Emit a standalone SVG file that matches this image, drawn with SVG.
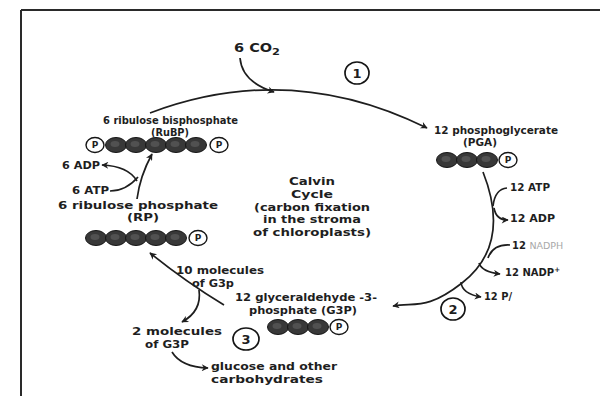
<svg xmlns="http://www.w3.org/2000/svg" width="600" height="396" viewBox="0 0 600 396">
<style>
text{font-family:"DejaVu Sans","Liberation Sans",sans-serif;font-weight:bold;fill:#1e1e1e;font-size:10px}
.c{text-anchor:middle}
.m{font-size:10.5px}
.ln{fill:none;stroke:#1e1e1e;stroke-width:1.7}
.bd{fill:#383838;stroke:#151515;stroke-width:1}
.p{fill:#fff;stroke:#151515;stroke-width:1.4}
.pt{font-size:9px;text-anchor:middle}
.num{fill:#fff;stroke:#151515;stroke-width:1.7}
.nt{font-size:13px;text-anchor:middle}
</style>
<defs>
<marker id="ah" viewBox="0 0 10 10" refX="9" refY="5" markerWidth="10" markerHeight="7" markerUnits="userSpaceOnUse" orient="auto">
<path d="M0,0 L10,5 L0,10 L3,5 Z" fill="#1e1e1e"/>
</marker>
<g id="dk"><ellipse class="bd" rx="10.5" ry="7.5"/><ellipse cx="-1" cy="-1" rx="4.5" ry="3" fill="#707070" opacity="0.45"/></g>
<g id="pp"><ellipse class="p" rx="9" ry="7.5"/><text class="pt" y="3.3">P</text></g>
</defs>
<rect width="600" height="396" fill="#fff"/>
<g id="frame">
<line x1="21" y1="10" x2="600" y2="10" stroke="#2a2a2a" stroke-width="2.2"/>
<line x1="21" y1="10" x2="21" y2="396" stroke="#2a2a2a" stroke-width="2"/>
</g>
<g id="connectors">
<path class="ln" d="M240,58 Q242,82 274,92" marker-end="url(#ah)"/>
<path class="ln" d="M150,113 Q290,60 427,128" marker-end="url(#ah)"/>
<path class="ln" d="M483,172 C500,215 498,255 462,283 S415,302 393,306" marker-end="url(#ah)"/>
<path class="ln" d="M507,188 Q495,189 493,206"/>
<path class="ln" d="M494,208 Q496,220 508,220" marker-end="url(#ah)"/>
<path class="ln" d="M510,245 Q493,244 488,258"/>
<path class="ln" d="M479,263 Q482,272 500,274" marker-end="url(#ah)"/>
<path class="ln" d="M461,282 Q462,294 481,297" marker-end="url(#ah)"/>
<path class="ln" d="M224,305 Q186,282 150,253" marker-end="url(#ah)"/>
<path class="ln" d="M199,290 Q202,311 182,322" marker-end="url(#ah)"/>
<path class="ln" d="M172,352 Q181,367 208,368" marker-end="url(#ah)"/>
<path class="ln" d="M137,199 Q140,176 152,154" marker-end="url(#ah)"/>
<path class="ln" d="M110,191 Q126,191 138,177"/>
<path class="ln" d="M137,181 Q128,166 102,165" marker-end="url(#ah)"/>
</g>
<g id="co2"><text x="234" y="52" style="font-size:11.5px" textLength="46" lengthAdjust="spacingAndGlyphs">6 CO<tspan dy="3" font-size="9">2</tspan></text></g>
<g id="step1"><ellipse class="num" cx="357" cy="73" rx="12" ry="11"/><text class="nt" x="357" y="78">1</text></g>
<g id="step2"><ellipse class="num" cx="453" cy="309" rx="12" ry="11"/><text class="nt" x="453" y="314">2</text></g>
<g id="step3"><ellipse class="num" cx="246" cy="339" rx="13" ry="11"/><text class="nt" x="246" y="344">3</text></g>
<g id="rubp">
<text x="103" y="124" textLength="135" lengthAdjust="spacingAndGlyphs">6 ribulose bisphosphate</text>
<text class="c" x="170" y="136" textLength="38" lengthAdjust="spacingAndGlyphs">(RuBP)</text>
<use href="#pp" x="95" y="145"/>
<use href="#dk" x="116" y="145"/><use href="#dk" x="136" y="145"/><use href="#dk" x="156" y="145"/><use href="#dk" x="176" y="145"/><use href="#dk" x="196" y="145"/>
<use href="#pp" x="219" y="145"/>
</g>
<g id="pga">
<text x="434" y="134" textLength="124" lengthAdjust="spacingAndGlyphs">12 phosphoglycerate</text>
<text class="c" x="480" y="146" textLength="34" lengthAdjust="spacingAndGlyphs">(PGA)</text>
<use href="#dk" x="447" y="160"/><use href="#dk" x="467" y="160"/><use href="#dk" x="487" y="160"/>
<use href="#pp" x="508" y="160"/>
</g>
<g id="calvin">
<text class="c" x="312" y="185" textLength="46" lengthAdjust="spacingAndGlyphs">Calvin</text>
<text class="c" x="312" y="198" textLength="42" lengthAdjust="spacingAndGlyphs">Cycle</text>
<text class="c" x="312" y="211" textLength="116" lengthAdjust="spacingAndGlyphs">(carbon fixation</text>
<text class="c" x="312" y="223" textLength="98" lengthAdjust="spacingAndGlyphs">in the stroma</text>
<text class="c" x="312" y="236" textLength="118" lengthAdjust="spacingAndGlyphs">of chloroplasts)</text>
</g>
<g id="adp6"><text x="62" y="169" textLength="38" lengthAdjust="spacingAndGlyphs">6 ADP</text></g>
<g id="atp6"><text x="72" y="194" textLength="37" lengthAdjust="spacingAndGlyphs">6 ATP</text></g>
<g id="rp">
<text class="m" x="58" y="209" textLength="160" lengthAdjust="spacingAndGlyphs">6 ribulose phosphate</text>
<text class="c" x="143" y="221" textLength="32" lengthAdjust="spacingAndGlyphs">(RP)</text>
<use href="#dk" x="96" y="238"/><use href="#dk" x="116" y="238"/><use href="#dk" x="136" y="238"/><use href="#dk" x="156" y="238"/><use href="#dk" x="176" y="238"/>
<use href="#pp" x="198" y="238"/>
</g>
<g id="atp12"><text x="510" y="191" textLength="40" lengthAdjust="spacingAndGlyphs">12 ATP</text></g>
<g id="adp12"><text x="510" y="222" textLength="45" lengthAdjust="spacingAndGlyphs">12 ADP</text></g>
<g id="nadph"><text x="512" y="249">12 <tspan style="fill:#a8a8a8;font-weight:normal;font-size:9.5px">NADPH</tspan></text></g>
<g id="nadp"><text x="505" y="276">12 NADP<tspan dy="-4" font-size="7">+</tspan></text></g>
<g id="pi"><text x="484" y="300" textLength="28" lengthAdjust="spacingAndGlyphs">12 P/</text></g>
<g id="g3p10"><text class="c m" x="220" y="274" textLength="88" lengthAdjust="spacingAndGlyphs">10 molecules</text><text class="c m" x="213" y="287" textLength="42" lengthAdjust="spacingAndGlyphs">of G3p</text></g>
<g id="g3p">
<text class="c m" x="306" y="301" textLength="142" lengthAdjust="spacingAndGlyphs">12 glyceraldehyde -3-</text>
<text class="c m" x="303" y="314" textLength="108" lengthAdjust="spacingAndGlyphs">phosphate (G3P)</text>
<use href="#dk" x="278" y="327"/><use href="#dk" x="298" y="327"/><use href="#dk" x="318" y="327"/>
<use href="#pp" x="339" y="327"/>
</g>
<g id="g3p2"><text class="c m" x="177" y="335" textLength="90" lengthAdjust="spacingAndGlyphs">2 molecules</text><text class="c m" x="167" y="348" textLength="44" lengthAdjust="spacingAndGlyphs">of G3P</text></g>
<g id="glucose"><text class="m" x="211" y="370" textLength="126" lengthAdjust="spacingAndGlyphs">glucose and other</text><text class="m" x="211" y="383" textLength="112" lengthAdjust="spacingAndGlyphs">carbohydrates</text></g>
</svg>
